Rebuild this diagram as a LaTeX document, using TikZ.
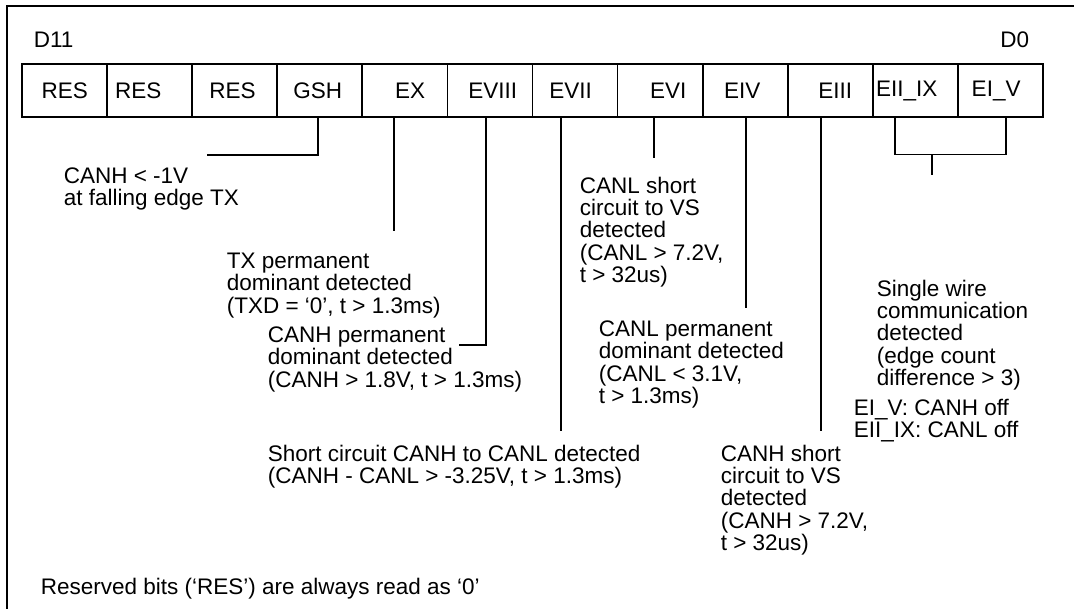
\documentclass[tikz,border=0pt]{standalone}
\usepackage{fontspec}
\setmainfont{Liberation Sans}
\usetikzlibrary{positioning}

\begin{document}
\begin{tikzpicture}[
    x=0.5pt, y=-0.5pt,
    line width=0.8pt,
    bitcell/.style={draw, outer sep=0pt, inner sep=0pt, minimum height=26.65pt, text width=42.565pt, align=left, font=\fontsize{11.25}{11.2}\selectfont},
    note/.style={anchor=north west, inner sep=0pt, align=left, font=\fontsize{11.25}{11.2}\selectfont}
]
\useasboundingbox (0,0) rectangle (1074,609);
\draw[line width=0.6pt] (1080,6) -- (7,6) -- (7,615);
\node[note, anchor=west] (msb) at (33,40) {D11};
\node[note, anchor=east] (lsb) at (1030,40) {D0};
% register bits D11 ... D0
\node[bitcell, anchor=north west] (b11) at (21.7,64) {\hspace*{10pt}RES};
\node[bitcell, right=0pt of b11] (b10) {\hspace*{4.1pt}RES};
\node[bitcell, right=0pt of b10] (b9) {\hspace*{8.65pt}RES};
\node[bitcell, right=0pt of b9] (b8) {\hspace*{8.1pt}GSH};
\node[bitcell, right=0pt of b8] (b7) {\hspace*{16.4pt}EX};
\node[bitcell, right=0pt of b7] (b6) {\hspace*{10.5pt}EVIII};
\node[bitcell, right=0pt of b6] (b5) {\hspace*{8.4pt}EVII};
\node[bitcell, right=0pt of b5] (b4) {\hspace*{16.2pt}EVI};
\node[bitcell, right=0pt of b4] (b3) {\hspace*{10.65pt}EIV};
\node[bitcell, right=0pt of b3] (b2) {\hspace*{15.2pt}EIII};
\node[bitcell, right=0pt of b2] (b1) {\hspace*{1.5pt}EII\_IX};
\node[bitcell, right=0pt of b1] (b0) {\hspace*{6.8pt}EI\_V};
% descriptions
\node[note] (gsh) at (63,167) {CANH < -1V\\at falling edge TX};
\node[note] (ex) at (226,252) {TX permanent\\dominant detected\\(TXD = ‘0’, t > 1.3ms)};
\node[note] (eviii) at (267,326) {CANH permanent\\dominant detected\\(CANH > 1.8V, t > 1.3ms)};
\node[note] (evii) at (267,444) {Short circuit CANH to CANL detected\\(CANH - CANL > -3.25V, t > 1.3ms)};
\node[note] (evi) at (579,176) {CANL short\\circuit to VS\\detected\\(CANL > 7.2V,\\t > 32us)};
\node[note] (eiv) at (598,320) {CANL permanent\\dominant detected\\(CANL < 3.1V,\\t > 1.3ms)};
\node[note] (eiii) at (720,444) {CANH short\\circuit to VS\\detected\\(CANH > 7.2V,\\t > 32us)};
\node[note] (single) at (876,279) {Single wire\\communication\\detected\\(edge count\\difference > 3)};
\node[note] (off) at (853,398) {EI\_V: CANH off\\EII\_IX: CANL off};
\node[note] (res) at (40,577) {Reserved bits (‘RES’) are always read as ‘0’};
% leader lines
\draw ([xshift=-0.7pt]b8.south) -- ++(0,37.7) -- ++(-111.3,0);
\draw ([xshift=-5.4pt]b7.south) -- ++(0,113.7);
\draw ([xshift=-1.95pt]b6.south) -- ++(0,227.7) -- ++(-26.8,0);
\draw ([xshift=-7.05pt]b5.south) -- ++(0,314);
\draw ([xshift=-3.1pt]b4.south) -- ++(0,40.7);
\draw ([xshift=0.35pt]b3.south) -- ++(0,191);
\draw ([xshift=-4.75pt]b2.south) -- ++(0,314);
\draw ([xshift=-10.3pt]b1.south) -- ++(0,37.2) -| ([xshift=2.65pt]b0.south);
\coordinate (fork) at (931.7,154.5);
\draw (fork) -- ++(0,20.2);
\end{tikzpicture}
\end{document}
